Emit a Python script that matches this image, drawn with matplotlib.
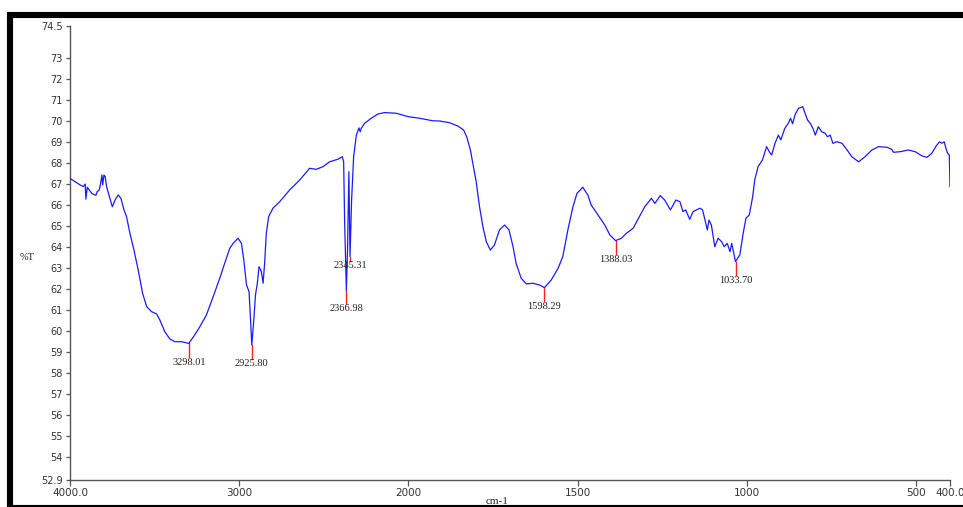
import numpy as np
import matplotlib
matplotlib.use("Agg")
import matplotlib.pyplot as plt
from matplotlib.patches import Rectangle

# FTIR spectrum: wavenumber (cm-1) and transmittance (%T)
wavenumber = [
    4000, 3941, 3921, 3910, 3906, 3898, 3872, 3847, 3839, 3827, 3819, 3811,
    3807, 3799, 3792, 3784, 3764, 3750, 3734, 3715, 3699, 3681, 3666, 3646,
    3622, 3597, 3571, 3547, 3518, 3488, 3469, 3440, 3410, 3380, 3341, 3298.01,
    3263, 3233, 3194, 3154, 3115, 3086, 3056, 3036, 3007, 2987, 2973, 2957,
    2942, 2932, 2925.80, 2914, 2904, 2893, 2883, 2869, 2859, 2850, 2840, 2826,
    2801, 2761, 2702, 2643, 2584, 2545, 2505, 2466, 2417, 2391, 2383, 2377,
    2366.98, 2360, 2352, 2345.31, 2336, 2324, 2308, 2293, 2285, 2279, 2259,
    2220, 2181, 2142, 2073, 2004, 1967, 1928, 1908, 1879, 1854, 1837, 1828,
    1817, 1810, 1800, 1790, 1780, 1770, 1758, 1746, 1731, 1716, 1703, 1691,
    1682, 1667, 1652, 1632, 1613, 1598.29, 1578, 1558, 1544, 1529, 1514, 1502,
    1485, 1470, 1460, 1440, 1420, 1405, 1388.03, 1371, 1356, 1336, 1317, 1302,
    1282, 1272, 1256, 1243, 1226, 1210, 1198, 1189, 1181, 1169, 1159, 1139,
    1131, 1124, 1117, 1112, 1105, 1095, 1085, 1075, 1067, 1058, 1050, 1045,
    1033.70, 1021, 1011, 1003, 993, 983, 977, 967, 954, 942, 934, 927, 917,
    907, 900, 888, 878, 871, 865, 858, 848, 835, 828, 821, 813, 805, 798, 789,
    779, 769, 762, 754, 746, 734, 719, 704, 690, 670, 651, 631, 611, 586, 572,
    567, 547, 523, 503, 483, 468, 454, 441, 431, 424, 417, 412, 407, 402, 400,
]
transmittance = [
    67.25, 66.94, 66.86, 66.98, 66.26, 66.83, 66.54, 66.44, 66.62, 66.70, 67.02, 67.41,
    66.94, 67.41, 67.33, 66.86, 66.30, 65.90, 66.22, 66.46, 66.30, 65.75, 65.43, 64.64,
    63.84, 62.89, 61.78, 61.15, 60.91, 60.80, 60.51, 59.96, 59.61, 59.48, 59.48, 59.40,
    59.80, 60.19, 60.75, 61.62, 62.50, 63.21, 63.92, 64.16, 64.40, 64.16, 63.37, 62.18,
    61.86, 60.36, 59.32, 60.51, 61.70, 62.26, 63.05, 62.81, 62.26, 63.21, 64.64, 65.43,
    65.83, 66.14, 66.70, 67.17, 67.73, 67.68, 67.81, 68.04, 68.16, 68.28, 68.04, 65.13,
    61.94, 63.84, 67.57, 63.53, 66.22, 68.28, 69.30, 69.65, 69.47, 69.63, 69.87,
    70.11, 70.31, 70.38, 70.35, 70.19, 70.11, 69.99, 69.98, 69.90, 69.74, 69.55, 69.23,
    68.60, 67.97, 67.10, 65.90, 64.95, 64.24, 63.84, 64.08, 64.80, 65.03, 64.80, 64.00,
    63.21, 62.50, 62.23, 62.26, 62.18, 62.05, 62.42, 62.97, 63.53, 64.80, 65.90, 66.54,
    66.83, 66.46, 65.98, 65.51, 65.03, 64.56, 64.29, 64.40, 64.64, 64.88, 65.45, 65.90,
    66.30, 66.06, 66.43, 66.22, 65.75, 66.22, 66.14, 65.67, 65.75, 65.30, 65.67, 65.83,
    65.75, 65.27, 64.80, 65.27, 65.03, 64.00, 64.40, 64.24, 64.00, 64.16, 63.76, 64.16,
    63.29, 63.61, 64.64, 65.35, 65.51, 66.38, 67.17, 67.81, 68.13, 68.76, 68.52, 68.36, 68.92,
    69.31, 69.08, 69.63, 69.87, 70.11, 69.85, 70.27, 70.58, 70.66, 70.35, 70.03, 69.87, 69.63, 69.31, 69.71,
    69.47, 69.40, 69.23, 69.31, 68.92, 68.99, 68.92, 68.60, 68.28, 68.04, 68.28, 68.60, 68.76, 68.73, 68.63,
    68.49, 68.52, 68.60, 68.52, 68.32, 68.25, 68.44, 68.79, 68.99, 68.92, 68.99, 68.68, 68.44, 68.36, 66.86,
]

# Labelled absorption bands
peak_positions = [3298.01, 2925.80, 2366.98, 2345.31, 1598.29, 1388.03, 1033.70]
peak_labels = ["3298.01", "2925.80", "2366.98", "2345.31", "1598.29", "1388.03", "1033.70"]

# Axis ticks
x_ticks = [4000, 3000, 2000, 1500, 1000, 500, 400]
x_tick_labels = ["4000.0", "3000", "2000", "1500", "1000", "500", "400.0"]
y_ticks = [52.9] + list(range(54, 74)) + [74.5]
y_tick_labels = ["52.9"] + [str(v) for v in range(54, 74)] + ["74.5"]


# Compressed scale above 2000 cm-1 (half the spacing of the lower range)
def fwd(x):
    x = np.asarray(x, dtype=float)
    return np.where(x > 2000, 2000 + (x - 2000) * 0.5, x)


def inv(y):
    y = np.asarray(y, dtype=float)
    return np.where(y > 2000, 2000 + (y - 2000) * 2.0, y)


W, H = 963, 507
fig = plt.figure(figsize=(W / 100, H / 100), dpi=100)
ax = fig.add_axes([70 / W, (H - 480) / H, 880 / W, 454 / H])
ax.set_xscale("function", functions=(fwd, inv))

ax.plot(wavenumber, transmittance, color="#1a1aff", lw=0.9, zorder=3)

ax.set_xlim(4000, 400)
ax.set_ylim(52.9, 74.5)

# Peak markers
wn_arr = np.array(wavenumber)[::-1]
t_arr = np.array(transmittance)[::-1]
label_font = dict(family=["Liberation Serif", "DejaVu Serif"], fontsize=7.5, color="#222222")
for pos, lab in zip(peak_positions, peak_labels):
    t0 = float(np.interp(pos, wn_arr, t_arr))
    drop = 0.2 if lab == "2345.31" else 0.65
    ax.plot([pos, pos], [t0, t0 - drop], color="#ff2020", lw=1.0, zorder=2)
    ax.text(pos, t0 - drop - 0.03, lab, ha="center", va="top", **label_font)

ax.set_xticks(x_ticks)
ax.set_xticklabels(x_tick_labels)
ax.set_yticks(y_ticks)
ax.set_yticklabels(y_tick_labels)
ax.xaxis.set_minor_locator(matplotlib.ticker.NullLocator())
ax.yaxis.set_minor_locator(matplotlib.ticker.NullLocator())

for side in ("top", "right"):
    ax.spines[side].set_visible(False)
for side in ("left", "bottom"):
    ax.spines[side].set_color("#555555")
    ax.spines[side].set_linewidth(1.0)

ax.tick_params(axis="x", direction="out", length=4, width=0.9, color="#555555",
               labelsize=7.5, labelcolor="#333333", pad=2)
ax.tick_params(axis="y", direction="out", length=3, width=0.9, color="#555555",
               labelsize=7, labelcolor="#333333", pad=2)
for lab in ax.get_xticklabels() + ax.get_yticklabels():
    lab.set_family(["DejaVu Sans"])

# Axis titles
fig.text(27 / W, (H - 258) / H, "%T", ha="center", va="center",
         fontsize=7.5, family=["Liberation Serif"], color="#222222")
fig.text(497 / W, (H - 502) / H, "cm-1", ha="center", va="center",
         fontsize=8, family=["Liberation Serif"], color="#222222")

# Heavy black frame around the plot
frame = Rectangle((10 / W, -1 / H), 1.2, (H - 15 + 1) / H, fill=False,
                  edgecolor="black", linewidth=4.4, transform=fig.transFigure,
                  clip_on=False, zorder=10)
fig.add_artist(frame)

fig.savefig("out.png", dpi=100, facecolor="white")
